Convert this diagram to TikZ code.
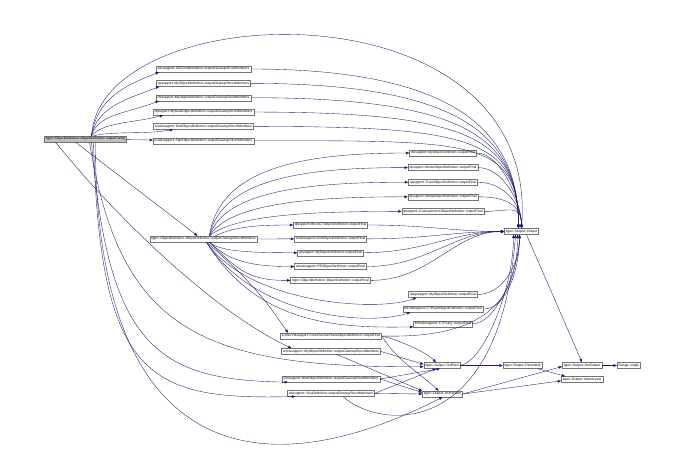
\documentclass[tikz,border=0pt]{standalone}
\usepackage{fontspec}
\setmainfont{Liberation Sans}
\usetikzlibrary{arrows.meta, positioning}
\definecolor{edgeblue}{RGB}{25,25,112}

\begin{document}
\begin{tikzpicture}[
    x=1pt, y=-1pt, >={Triangle[length=3.4pt, width=2.6pt]},
    fn/.style={draw=black!55, fill=white, line width=0.35pt,
               font=\fontsize{3.35}{4}\selectfont, inner xsep=1.5pt,
               inner ysep=0pt, minimum height=6pt},
    call/.style={->, draw=edgeblue, line width=0.35pt}
  ]
  \path[use as bounding box, fill=white] (0,0) rectangle (679,461);

  \node[fn, fill=black!25] (root) at (85.5,139)
    {itgen::ObjectDefinition::ObjectDefinition::outputConfig};

  \node[fn] (xacClean) at (203.5,69)
    {xacsupport::AllCoordDefinition::outputCleanupStructMembers};
  \node[fn, below=8pt of xacClean] (vpClean)
    {vpsupport::MyObjectDefinition::outputCleanupStructMembers};
  \node[fn, below=8pt of vpClean] (ctkClean)
    {ctksupport::MyObjectDefinition::outputCleanupStructMembers};
  \node[fn, below=8pt of ctkClean] (qtClean)
    {qtsupport::MyMultiObjectDefinition::outputCleanupStructMembers};
  \node[fn, below=8pt of qtClean] (gridClean)
    {scalesupport::GridObjectDefinition::outputCleanupStructMembers};
  \node[fn, below=8pt of gridClean] (spinClean)
    {scalesupport::SpinObjectDefinition::outputCleanupStructMembers};

  \node[fn] (mid) at (203.5,239)
    {itgen::ObjectDefinition::ObjectDefinition::outputCleanupStructMembers};

  \node[fn] (vtkFinal) at (443,153)
    {vtksupport::MyObjectDefinition::outputFinal};
  \node[fn, below=8.25pt of vtkFinal] (movieFinal)
    {qtsupport::MovieObjectDefinition::outputFinal};
  \node[fn, below=8.25pt of movieFinal] (trackFinal)
    {qtsupport::TrackObjectDefinition::outputFinal};
  \node[fn, below=8.25pt of trackFinal] (mediaFinal)
    {qtsupport::MediaObjectDefinition::outputFinal};
  \node[fn, below=8.25pt of mediaFinal] (anchorFinal)
    {qtsupport::CoarseAnchorObjectDefinition::outputFinal};

  \node[fn] (ctFinal) at (330.5,225)
    {qtsupport::MovieCTObjectDefinition::outputFinal};
  \node[fn, below=7.5pt of ctFinal] (gridFinal)
    {scalesupport::GridObjectDefinition::outputFinal};
  \node[fn, below=7.5pt of gridFinal] (vpFinal)
    {vpsupport::MyObjectDefinition::outputFinal};
  \node[fn, below=7.5pt of vpFinal] (pirFinal)
    {wxvissupport::PIRObjectDefinition::outputFinal};
  \node[fn, below=7.5pt of pirFinal] (objFinal)
    {itgen::ObjectDefinition::ObjectDefinition::outputFinal};

  \node[fn] (diagFinal) at (443,294.5)
    {diagsupport::MyObjectDefinition::outputFinal};
  \node[fn, below=8.25pt of diagFinal] (planeFinal)
    {MCvtksupport::CTPlaneObjectDefinition::outputFinal};
  \node[fn, below=8.25pt of planeFinal] (policyFinal)
    {MScalesupport::CTPolicy::outputFinal};

  \node[fn] (colourFinal) at (331,336)
    {ColourVtksupport::CrossSectionPlaneObjectDefinition::outputFinal};
  \node[fn, below=9pt of colourFinal] (wxClean)
    {wxvissupport::MyObjectDefinition::outputCleanupStructMembers};
  \node[fn] (dmClean) at (331,379)
    {Dmsupport::WxsObjectDefinition::outputCleanupStructMembers};
  \node[fn, below=8pt of dmClean] (visuClean)
    {vtksupport::VisuDefinition::outputCleanupStructMembers};

  \node[fn] (output) at (521.5,231.5) {itgen::Output::Output};
  \node[fn] (outFiles) at (442,365.5) {itgen::Output::OutFiles};
  \node[fn] (outStream) at (442.5,394) {itgen::Output::OutStream};
  \node[fn] (decIndent) at (522.5,365.5) {itgen::Output::DecIndent};
  \node[fn] (outOutput) at (582,365.5) {itgen::Output::OutOutput};
  \node[fn, below=7.5pt of outOutput] (indentLevel) {itgen::Output::IndentLevel};
  \node[fn, right=15pt of outOutput] (range) {Range::single};

  % calls made by outputConfig
  \foreach \n/\h in {xacClean/40, vpClean/30, ctkClean/22}
    \draw[call] ([xshift=6pt]root.north) .. controls +(6,-\h) and +(-30,12)
      .. ([xshift=3pt]\n.south west);
  \draw[call] ([xshift=6pt]root.north) .. controls +(12,-14) and +(-30,8)
    .. ([xshift=10pt]qtClean.south west);
  \draw[call] ([xshift=8pt]root.north) .. controls +(20,-5) and +(-30,5)
    .. ([xshift=20pt]gridClean.south west);
  \draw[call] (root) -- (spinClean);
  \draw[call] ([xshift=6pt]root.north) .. controls (100,-5) and (540,-20)
    .. (output.north);
  \draw[call] ([xshift=-10pt]root.south) -- ([xshift=-6pt]mid.north);
  \draw[call] ([xshift=-30pt]root.south) .. controls (110,210) and (210,310)
    .. ([xshift=10pt]wxClean.north west);
  \draw[call] ([xshift=4pt]root.south) .. controls (120,330) and (200,368)
    .. ([yshift=-1.2pt]outFiles.west);
  \draw[call] ([xshift=6pt]root.south) .. controls (108,350) and (160,380)
    .. ([xshift=6pt]dmClean.south west);
  \draw[call] ([xshift=8pt]root.south) .. controls (100,380) and (150,400)
    .. ([xshift=8pt]visuClean.south west);
  \draw[call] ([xshift=10pt]root.south) .. controls (95,440) and (240,500)
    .. (outStream.south);

  % calls made by outputCleanupStructMembers
  \foreach \n/\h/\d in {vtkFinal/70/10, movieFinal/58/12, trackFinal/45/15,
                        mediaFinal/32/20, anchorFinal/20/25}
    \draw[call] ([xshift=6pt]mid.north) .. controls +(\d,-\h) and +(-100,0)
      .. (\n.west);
  \draw[call] ([xshift=12pt]mid.north) .. controls +(20,-10) and +(-30,0)
    .. (ctFinal.west);
  \draw[call] (mid.east) -- (gridFinal.west);
  \foreach \n/\d in {vpFinal/10, pirFinal/20, objFinal/30}
    \draw[call] ([xshift=6pt]mid.south) .. controls +(\d,\d) and +(-40,0)
      .. (\n.west);
  \draw[call] ([xshift=3pt]mid.south) .. controls (250,305) and (380,312)
    .. ([xshift=8pt]diagFinal.south west);
  \draw[call] ([xshift=3pt]mid.south) .. controls (255,318) and (370,326)
    .. ([xshift=8pt]planeFinal.south west);
  \draw[call] ([xshift=3pt]mid.south) .. controls (258,326) and (340,328)
    .. (policyFinal.south west);
  \draw[call] ([xshift=3pt]mid.south) .. controls (262,290) and (275,315)
    .. ([xshift=8pt]colourFinal.north west);

  % calls into itgen::Output
  \foreach \n in {xacClean, vpClean, ctkClean, qtClean, gridClean, spinClean}
    \draw[call] (\n.east) .. controls +(215,0) and +(0,-90)
      .. ([xshift=-3pt]output.north);
  \foreach \n in {vtkFinal, movieFinal, trackFinal, mediaFinal, anchorFinal}
    \draw[call] (\n.east) .. controls +(25,0) and +(0,-25) .. (output.north);
  \foreach \n in {ctFinal, gridFinal, vpFinal, pirFinal, objFinal}
    \draw[call] (\n.east) .. controls +(60,0) and +(-50,0) .. (output.west);
  \foreach \n in {diagFinal, planeFinal, policyFinal}
    \draw[call] (\n.east) .. controls +(25,0) and +(0,30)
      .. ([xshift=-2pt]output.south);
  \draw[call] (colourFinal.east) .. controls +(110,3) and +(0,60)
    .. ([xshift=-4pt]output.south);
  \draw[call] ([xshift=12pt]visuClean.south) .. controls (380,430) and (500,440)
    .. ([xshift=-6pt]output.south);
  \draw[call] (outFiles.east) .. controls +(25,-5) and +(0,50)
    .. ([xshift=-8pt]output.south);

  \draw[call] (colourFinal.east) .. controls +(20,5) and +(-10,-10)
    .. ([xshift=-6pt]outFiles.north);
  \draw[call] (colourFinal.east) .. controls +(15,25) and +(-15,-15)
    .. ([xshift=-4pt]outStream.north);
  \draw[call] (wxClean.east) -- ([yshift=1.2pt]outFiles.west);
  \draw[call] ([xshift=6pt]wxClean.south) -- (outStream.north west);
  \draw[call] (dmClean.east) -- ([xshift=-2pt]outFiles.south);
  \draw[call] (dmClean.east) -- ([yshift=1.5pt]outStream.west);
  \draw[call] (visuClean.east) -- ([xshift=-6pt]outFiles.south);
  \draw[call] (visuClean.east) -- (outStream.west);
  \draw[call] (outFiles) -- (decIndent);
  \draw[call] ([xshift=-5pt]decIndent.south east)
    -- ([xshift=4pt]indentLevel.north west);
  \draw[call] (outStream.east) -- ([yshift=-1pt]outOutput.west);
  \draw[call] (outStream.east) -- ([yshift=-1.5pt]indentLevel.west);
  \draw[call] ([xshift=5pt]output.south) -- (outOutput.north);
  \draw[call] (outOutput) -- (range);
\end{tikzpicture}
\end{document}
